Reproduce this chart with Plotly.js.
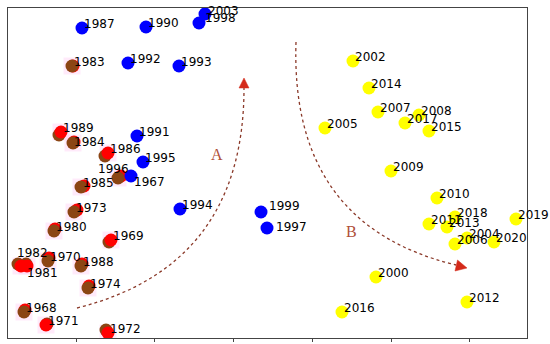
<!DOCTYPE html>
<html>
<head>
<meta charset="utf-8">
<script src="https://cdn.plot.ly/plotly-3.0.1.min.js"></script>
<style>html,body{margin:0;padding:0;background:#fff;}#chart{width:550px;height:344px;}</style>
</head>
<body>
<div id="chart"></div>
<script>
// ---- data (x, y; y grows downward) ----
const blueYears = ['1987','1990','2003','1998','1992','1993','1991','1995','1967','1994','1999','1997'];
const blueX = [82,146,205,199,128,179,137,143,131,180,261,267];
const blueY = [28,27,14,23,63,66,136,162,176,209,212,228];

// red circle drawn over brown circle
const redTopYears = ['1989','1986','1969','1971','1972','1982','1981'];
const redTopRedX = [61,108,111,46,108,21,27];
const redTopRedY = [132,153,240,325,333,266,266];
const redTopBrownX = [59,105,109,47,106,18,26];
const redTopBrownY = [135,156,242,324,330,264,264];

// brown circle drawn over red circle
const brownTopYears = ['1983','1984','1985','1996','1973','1980','1970','1988','1974','1968'];
const brownTopBrownX = [72,73,81,118,74,54,48,81,88,24];
const brownTopBrownY = [66,143,187,178,212,231,261,266,288,312];
const brownTopRedX = [73,74,84,121,77,55,49,82,89,25];
const brownTopRedY = [66,142,186,176,210,229,258,264,286,310];

const yellowYears = ['2002','2014','2007','2008','2017','2015','2005','2009','2010','2018','2011','2013','2004','2006','2020','2019','2000','2012','2016'];
const yellowX = [353,369,378,419,405,429,325,391,437,455,429,447,467,455,494,516,376,467,342];
const yellowY = [61,88,112,115,123,131,128,171,198,217,224,227,238,244,242,219,277,302,312];

const xTicks = [76,154,233,312,391,469];

// label offsets (pixels) that differ from the default
const labelOffsets = {'1982':[-6,-13],'1981':[-2,7],'1996':[-22,-9],'1967':[1,6],'1999':[6,-6],'1997':[7,-1],'1984':[-1,-1],'1998':[4,-5],'2003':[1,-3]};

// ---- colours ----
const RED = '#ff0000', BROWN = '#8b4513', BLUE = '#0000ff', YELLOW = '#ffff00';
const MS = 13;

const haloX = redTopRedX.concat(brownTopBrownX);
const haloY = redTopRedY.concat(brownTopBrownY);

const traces = [
  {x: haloX, y: haloY, mode: 'markers', type: 'scatter', hoverinfo: 'skip',
   marker: {symbol: 'square', size: 17, color: 'rgba(255,200,242,0.38)'}},
  {x: redTopBrownX, y: redTopBrownY, mode: 'markers', type: 'scatter', marker: {size: MS, color: BROWN}},
  {x: brownTopRedX, y: brownTopRedY, mode: 'markers', type: 'scatter', marker: {size: MS, color: RED}},
  {x: brownTopBrownX, y: brownTopBrownY, mode: 'markers', type: 'scatter', marker: {size: MS, color: BROWN}},
  {x: redTopRedX, y: redTopRedY, mode: 'markers', type: 'scatter', marker: {size: MS, color: RED}},
  {x: blueX, y: blueY, mode: 'markers', type: 'scatter', marker: {size: MS, color: BLUE}},
  {x: yellowX, y: yellowY, mode: 'markers', type: 'scatter', marker: {size: MS, color: YELLOW}}
];

function labels(years, xs, ys) {
  return years.map((t, i) => {
    const o = labelOffsets[t] || [0, -4];
    return {x: xs[i], y: ys[i], xref: 'x', yref: 'y', text: t, showarrow: false,
            xanchor: 'left', yanchor: 'middle', xshift: o[0], yshift: -o[1],
            font: {family: 'DejaVu Sans', size: 12, color: '#000'}};
  });
}

const annotations = [].concat(
  labels(blueYears, blueX, blueY),
  labels(redTopYears, redTopRedX, redTopRedY),
  labels(brownTopYears, brownTopBrownX, brownTopBrownY),
  labels(yellowYears, yellowX, yellowY),
  [
    {x: 217, y: 154, xref: 'x', yref: 'y', text: 'A', showarrow: false,
     font: {family: 'Liberation Serif', size: 16, color: '#b0503a'}},
    {x: 351, y: 231, xref: 'x', yref: 'y', text: 'B', showarrow: false,
     font: {family: 'Liberation Serif', size: 16, color: '#b0503a'}}
  ]
);

const ARROW = '#8b3a2a';
const shapes = [
  {type: 'path', xref: 'x', yref: 'y', path: 'M 77,308 Q 244,266 244,88',
   line: {color: ARROW, width: 1.3, dash: 'dot'}},
  {type: 'path', xref: 'x', yref: 'y', path: 'M 244,78 L 249,88 L 239,88 Z',
   fillcolor: '#d42a1a', line: {color: '#d42a1a', width: 0.5}},
  {type: 'path', xref: 'x', yref: 'y', path: 'M 296,42 Q 290,225 456,265',
   line: {color: ARROW, width: 1.3, dash: 'dot'}},
  {type: 'path', xref: 'x', yref: 'y', path: 'M 467,268 L 455,271 L 457.5,260 Z',
   fillcolor: '#d42a1a', line: {color: '#d42a1a', width: 0.5}}
];

const layout = {
  width: 550, height: 344,
  margin: {l: 8, r: 23, t: 8, b: 6},
  paper_bgcolor: '#fff', plot_bgcolor: '#fff',
  showlegend: false,
  xaxis: {range: [8, 527], showgrid: false, zeroline: false, showticklabels: false,
          tickvals: xTicks, ticks: 'outside', ticklen: 3, tickcolor: '#444',
          showline: true, mirror: true, linecolor: '#444', linewidth: 1},
  yaxis: {range: [338, 8], showgrid: false, zeroline: false, showticklabels: false,
          ticks: '', showline: true, mirror: true, linecolor: '#444', linewidth: 1},
  annotations: annotations,
  shapes: shapes
};

Plotly.newPlot('chart', traces, layout, {staticPlot: true, displayModeBar: false});
</script>
</body>
</html>
